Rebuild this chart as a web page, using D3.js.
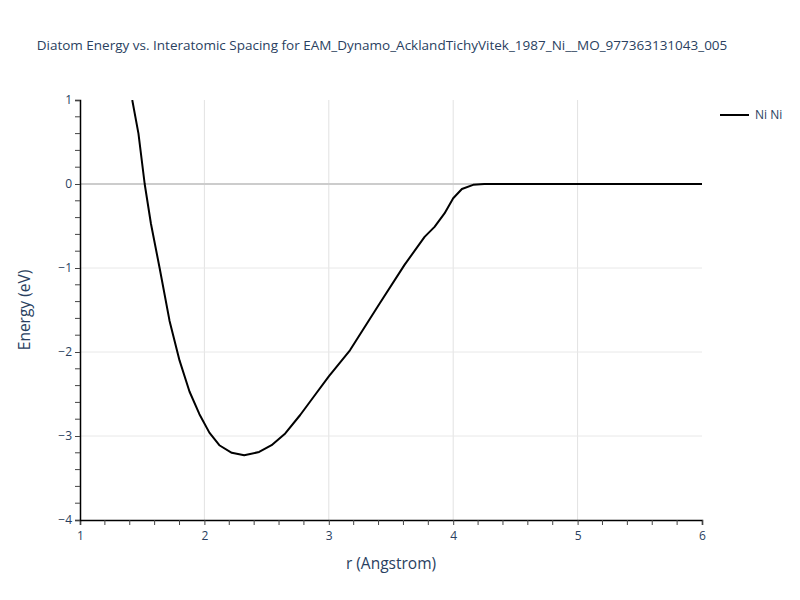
<!DOCTYPE html>
<html><head><meta charset="utf-8">
<script src="https://cdn.jsdelivr.net/npm/d3@7"></script>
<style>body{margin:0;background:#fff}svg{display:block;font-family:"Open Sans",Verdana,Arial,sans-serif}</style>
</head><body>
<svg id="chart" width="800" height="600"></svg>
<script>
const titleText = "Diatom Energy vs. Interatomic Spacing for EAM_Dynamo_AcklandTichyVitek_1987_Ni__MO_977363131043_005";
const seriesName = "Ni Ni";
const rValues = [1.42, 1.47, 1.52, 1.57, 1.64, 1.72, 1.80, 1.88, 1.96, 2.04, 2.12, 2.22, 2.32, 2.44, 2.54, 2.65, 2.77, 2.88, 3.00, 3.17, 3.41, 3.61, 3.77, 3.85, 3.93, 4.00, 4.07, 4.16, 4.25, 6.00];
const energyValues = [1.0, 0.6, 0.0, -0.47, -1.0, -1.63, -2.1, -2.47, -2.74, -2.96, -3.11, -3.2, -3.23, -3.19, -3.11, -2.97, -2.75, -2.53, -2.29, -1.98, -1.42, -0.96, -0.63, -0.51, -0.35, -0.17, -0.06, -0.01, 0, 0];
const xTicks = [1, 2, 3, 4, 5, 6];
const yTicks = [1, 0, -1, -2, -3, -4];

const svg = d3.select("#chart");
const L = 80, R = 702, T = 100, B = 520;
const x = d3.scaleLinear().domain([1, 6]).range([L, R]);
const y = d3.scaleLinear().domain([-4, 1]).range([B, T]);
const textColor = "#2a3f5f";

// gridlines
const grid = svg.append("g");
grid.selectAll("line.vx").data(xTicks.filter(d => d > 1 && d < 6)).join("line")
  .attr("x1", d => x(d)).attr("x2", d => x(d)).attr("y1", T).attr("y2", B)
  .attr("stroke", "#e2e2e2").attr("stroke-width", 1);
grid.selectAll("line.hy").data(yTicks.filter(d => d !== 0 && d > -4 && d < 1)).join("line")
  .attr("x1", L).attr("x2", R).attr("y1", d => y(d)).attr("y2", d => y(d))
  .attr("stroke", "#e8e8e8").attr("stroke-width", 1);
grid.append("line").attr("x1", L).attr("x2", R).attr("y1", y(0)).attr("y2", y(0))
  .attr("stroke", "#cccccc").attr("stroke-width", 2);

// curve
svg.append("defs").append("clipPath").attr("id", "clip")
  .append("rect").attr("x", L).attr("y", T).attr("width", R - L).attr("height", B - T);
const data = rValues.map((r, i) => [r, energyValues[i]]);
svg.append("path").datum(data)
  .attr("clip-path", "url(#clip)")
  .attr("fill", "none").attr("stroke", "#000").attr("stroke-width", 2)
  .attr("stroke-linejoin", "round")
  .attr("d", d3.line().x(d => x(d[0])).y(d => y(d[1])));

// axes
const xAxis = d3.axisBottom(x).tickValues(xTicks).tickSize(5).tickPadding(6).tickFormat(d3.format("d"));
const gx = svg.append("g").attr("transform", `translate(0,${B})`).call(xAxis);
const xMinor = d3.range(1.2, 6, 0.2).filter(v => Math.abs(v - Math.round(v)) > 1e-6);
gx.selectAll("line.minor").data(xMinor).join("line").attr("class", "minor")
  .attr("x1", d => x(d)).attr("x2", d => x(d)).attr("y1", 0).attr("y2", 5).attr("stroke", "#444");
const yAxis = d3.axisLeft(y).tickValues(yTicks).tickSize(5).tickPadding(3)
  .tickFormat(d => d < 0 ? "\u2212" + Math.abs(d) : String(d));
const gy = svg.append("g").attr("transform", `translate(${L},0)`).call(yAxis);
const yMinor = d3.range(-3.8, 1, 0.2).filter(v => Math.abs(v - Math.round(v)) > 1e-6);
gy.selectAll("line.minor").data(yMinor).join("line").attr("class", "minor")
  .attr("y1", d => y(d)).attr("y2", d => y(d)).attr("x1", 0).attr("x2", -5).attr("stroke", "#444");
[gx, gy].forEach(g => {
  g.select(".domain").attr("stroke", "#000").attr("stroke-width", 1.5);
  g.selectAll(".tick line").attr("stroke", "#444");
  g.selectAll(".tick text").attr("fill", textColor).style("font-size", "12px").style("font-family", "'Open Sans',Verdana,Arial,sans-serif");
});

// titles
svg.append("text").attr("x", 382).attr("y", 50).attr("text-anchor", "middle")
  .attr("fill", textColor).style("font-size", "13.5px").text(titleText);
svg.append("text").attr("x", 391).attr("y", 569).attr("text-anchor", "middle")
  .attr("fill", textColor).style("font-size", "15.5px").text("r (Angstrom)");
svg.append("text").attr("transform", "translate(30,310) rotate(-90)").attr("text-anchor", "middle")
  .attr("fill", textColor).style("font-size", "15.5px").text("Energy (eV)");

// legend
const lg = svg.append("g").attr("transform", "translate(720,115)");
lg.append("line").attr("x1", 0).attr("x2", 29).attr("y1", 0).attr("y2", 0).attr("stroke", "#000").attr("stroke-width", 2);
lg.append("text").attr("x", 35).attr("y", 4).attr("fill", textColor).style("font-size", "12px").text(seriesName);
</script>
</body></html>
